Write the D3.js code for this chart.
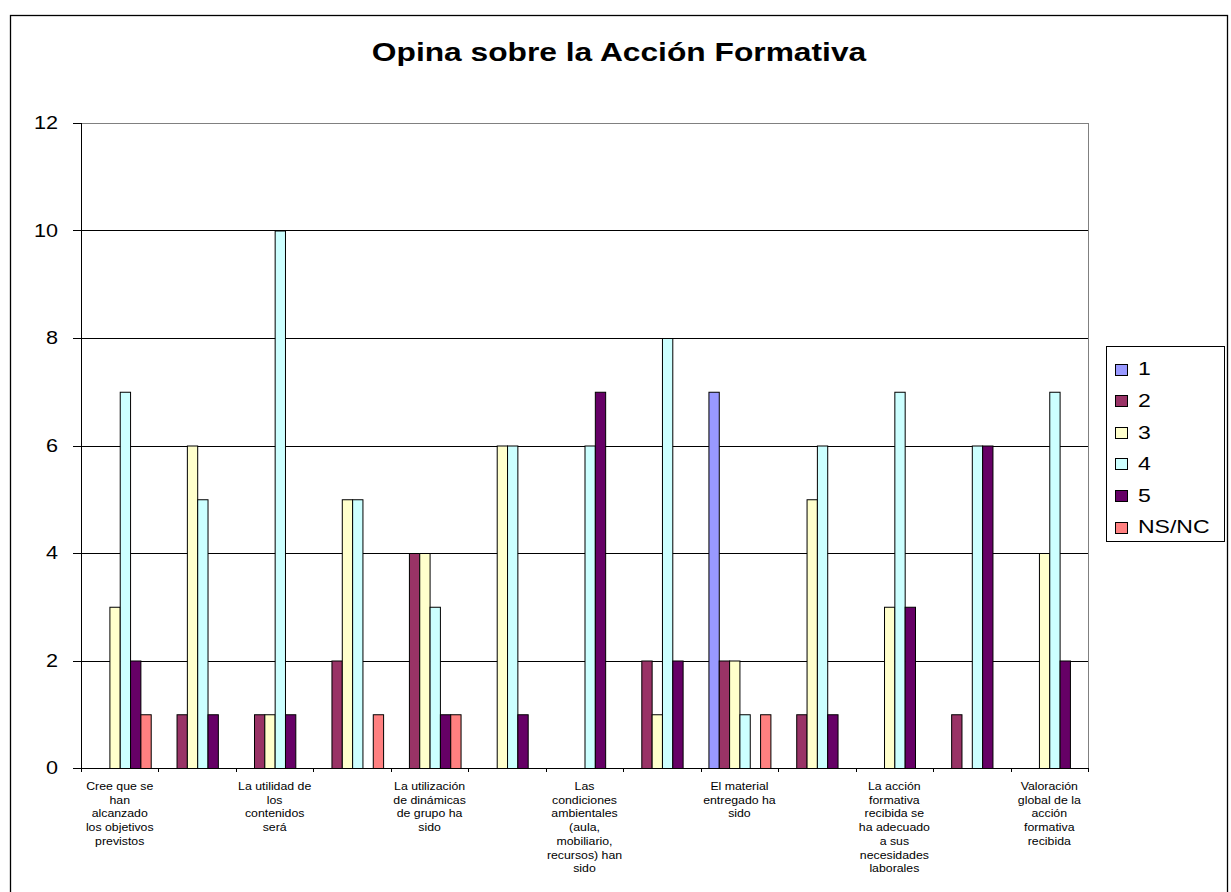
<!DOCTYPE html>
<html>
<head>
<meta charset="utf-8">
<script src="https://cdn.jsdelivr.net/npm/d3@7"></script>
<style>
  html, body { margin: 0; padding: 0; background: #fff; }
  svg { display: block; }
  text { font-family: "Liberation Sans", Arial, sans-serif; fill: #000; }
</style>
</head>
<body>
<svg id="chart" width="1231" height="892"></svg>
<script>
// ---- data ----
const title = "Opina sobre la Acción Formativa";
const categories = [
  "Cree que se\nhan\nalcanzado\nlos objetivos\nprevistos",
  "",
  "La utilidad de\nlos\ncontenidos\nserá",
  "",
  "La utilización\nde dinámicas\nde grupo ha\nsido",
  "",
  "Las\ncondiciones\nambientales\n(aula,\nmobiliario,\nrecursos) han\nsido",
  "",
  "El material\nentregado ha\nsido",
  "",
  "La acción\nformativa\nrecibida se\nha adecuado\na sus\nnecesidades\nlaborales",
  "",
  "Valoración\nglobal de la\nacción\nformativa\nrecibida"
];
const seriesNames = ["1", "2", "3", "4", "5", "NS/NC"];
const s1   = [0, 0, 0, 0, 0, 0, 0, 0, 7, 0, 0, 0, 0];
const s2   = [0, 1, 1, 2, 4, 0, 0, 2, 2, 1, 0, 1, 0];
const s3   = [3, 6, 1, 5, 4, 6, 0, 1, 2, 5, 3, 0, 4];
const s4   = [7, 5, 10, 5, 3, 6, 6, 8, 1, 6, 7, 6, 7];
const s5   = [2, 1, 1, 0, 1, 1, 7, 2, 0, 1, 3, 6, 2];
const sNS  = [1, 0, 0, 1, 1, 0, 0, 0, 1, 0, 0, 0, 0];
const seriesValues = [s1, s2, s3, s4, s5, sNS];
const yTicks = [0, 2, 4, 6, 8, 10, 12];
const colors = ["#9999FF", "#993366", "#FFFFCC", "#CCFFFF", "#660066", "#FF8080"];

// ---- layout ----
const svg = d3.select("#chart");
const plot = { left: 81, right: 1088, top: 123, bottom: 768 };

function place(sel, x, y, sx) {
  sel.attr("transform", `translate(${x},${y}) scale(${sx},1)`);
}

// outer border
svg.append("rect")
  .attr("x", 10.5).attr("y", 15.5).attr("width", 1217).attr("height", 885)
  .attr("fill", "none").attr("stroke", "#000").attr("stroke-width", 1.3);

// title
const t = svg.append("text")
  .attr("text-anchor", "middle")
  .attr("font-size", 25).attr("font-weight", "bold")
  .text(title);
place(t, 619, 61, 1.27);

const idx = d3.range(categories.length);
const x0 = d3.scaleBand().domain(idx).range([plot.left, plot.right]).padding(0);
const x1 = d3.scaleBand().domain(d3.range(seriesNames.length))
  .range([0, x0.bandwidth()]).paddingInner(0).paddingOuter(0.75);
const y = d3.scaleLinear().domain([0, 12]).range([plot.bottom, plot.top]);

// gridlines
svg.append("g").selectAll("line").data(yTicks.filter(v => v > 0)).join("line")
  .attr("x1", plot.left).attr("x2", plot.right)
  .attr("y1", d => Math.round(y(d)) + 0.5).attr("y2", d => Math.round(y(d)) + 0.5)
  .attr("stroke", d => d === 12 ? "#808080" : "#000").attr("stroke-width", 1);

// plot right border
svg.append("line")
  .attr("x1", plot.right + 0.5).attr("x2", plot.right + 0.5)
  .attr("y1", plot.top).attr("y2", plot.bottom)
  .attr("stroke", "#808080");

// bars
const barData = [];
seriesValues.forEach((vals, si) => {
  vals.forEach((v, ci) => { if (v > 0) barData.push({ si, ci, v }); });
});
svg.append("g").selectAll("rect").data(barData).join("rect")
  .attr("x", d => x0(d.ci) + x1(d.si) + 0.5)
  .attr("y", d => y(d.v) + 0.5)
  .attr("width", x1.bandwidth())
  .attr("height", d => y(0) - y(d.v))
  .attr("fill", d => colors[d.si])
  .attr("stroke", "#000").attr("stroke-width", 1);

// y axis
const yAxis = svg.append("g");
yAxis.append("line")
  .attr("x1", plot.left + 0.5).attr("x2", plot.left + 0.5)
  .attr("y1", plot.top).attr("y2", plot.bottom + 1)
  .attr("stroke", "#000");
yAxis.selectAll("line.tick").data(yTicks).join("line").attr("class", "tick")
  .attr("x1", plot.left - 8).attr("x2", plot.left)
  .attr("y1", d => Math.round(y(d)) + 0.5).attr("y2", d => Math.round(y(d)) + 0.5)
  .attr("stroke", "#000");
yAxis.selectAll("text").data(yTicks).join("text")
  .attr("text-anchor", "end").attr("font-size", 18)
  .attr("dy", "0.35em")
  .text(d => d)
  .each(function(d) { place(d3.select(this), 58, y(d), 1.2); });

// x axis
const xAxis = svg.append("g");
xAxis.append("line")
  .attr("x1", plot.left).attr("x2", plot.right + 1)
  .attr("y1", plot.bottom + 0.5).attr("y2", plot.bottom + 0.5)
  .attr("stroke", "#000");
xAxis.selectAll("line.tick").data(d3.range(categories.length + 1)).join("line").attr("class", "tick")
  .attr("x1", d => Math.round(plot.left + d * x0.bandwidth()) + 0.5)
  .attr("x2", d => Math.round(plot.left + d * x0.bandwidth()) + 0.5)
  .attr("y1", plot.bottom).attr("y2", plot.bottom + 4)
  .attr("stroke", "#000");
categories.forEach((c, ci) => {
  if (!c) return;
  const lines = c.split("\n");
  const cx = x0(ci) + x0.bandwidth() / 2;
  lines.forEach((ln, li) => {
    const tx = xAxis.append("text")
      .attr("text-anchor", "middle").attr("font-size", 11)
      .text(ln);
    place(tx, cx, 790 + li * 13.7, 1.12);
  });
});

// legend
const lg = svg.append("g");
lg.append("rect")
  .attr("x", 1106.5).attr("y", 346.5).attr("width", 118).attr("height", 195)
  .attr("fill", "#fff").attr("stroke", "#000");
seriesNames.forEach((n, i) => {
  const cy = 369 + i * 31.6;
  lg.append("rect")
    .attr("x", 1115.5).attr("y", Math.round(cy - 5.5) + 0.5)
    .attr("width", 12).attr("height", 11)
    .attr("fill", colors[i]).attr("stroke", "#000");
  const tx = lg.append("text")
    .attr("font-size", 18).attr("dy", "0.35em").text(n);
  place(tx, 1138, cy, 1.28);
});
</script>
</body>
</html>
